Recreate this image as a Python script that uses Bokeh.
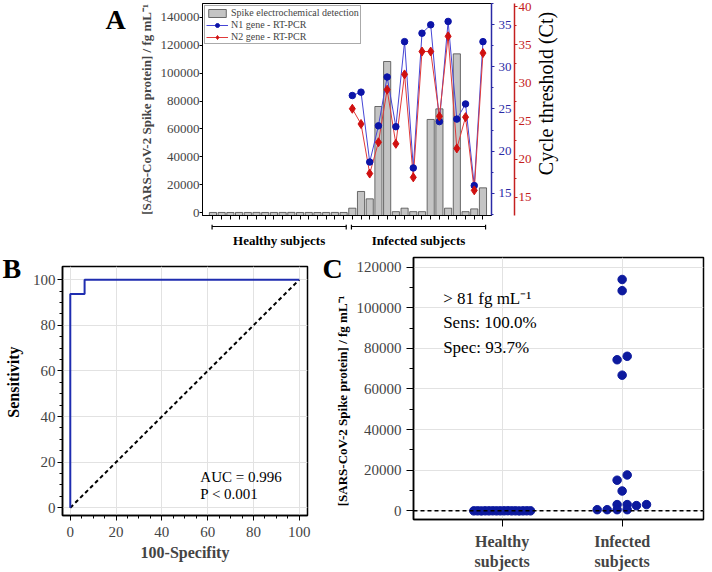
import math
from bokeh.plotting import figure
from bokeh.models import (Range1d, LinearAxis, FixedTicker, Span,
                          BasicTickFormatter)
from bokeh.layouts import column, row
from bokeh.embed import file_html
from bokeh.resources import INLINE
from bokeh.core.properties import value

SERIF = "Liberation Serif"

# ---------------- data ----------------
healthy_spike = [22, 35, 12, 48, 27, 60, 18, 31, 52, 96, 20, 41, 14, 29, 57, 33]
infected_spike = [3100, 15100, 9800, 76100, 108400, 600, 3100, 600, 600,
                  66800, 74400, 3100, 113900, 600, 2600, 17700]
n1_ct = [26.6, 27.0, 18.7, 23.0, 28.8, 22.9, 33.0, 18.0, 34.0, 35.0,
         23.5, 35.4, 23.8, 25.6, 15.9, 33.0]
n2_ct = [26.6, 24.6, 18.1, 22.2, 29.1, 22.0, 31.1, 17.6, 34.1, 34.1,
         25.6, 36.1, 21.4, 25.5, 15.9, 33.9]
group_labels = ["Healthy subjects", "Infected subjects"]
group_ticks = ["Healthy\nsubjects", "Infected\nsubjects"]
roc_fpr = [0, 0, 6.25, 6.25, 100]
roc_tpr = [0, 93.75, 93.75, 100, 100]
chance = [0, 100]
auc_text = "AUC = 0.996"
p_text = "P < 0.001"
cutoff = 81
sens_text = "Sens: 100.0%"
spec_text = "Spec: 93.7%"
cut_text = "> 81 fg mL\u207b\u00b9"
spike_label = "[SARS-CoV-2 Spike protein] / fg mL\u207b\u00b9"
ct_label = "Cycle threshold (Ct)"
sens_label = "Sensitivity"
spec_label = "100-Specifity"
legend_labels = ["Spike electrochemical detection", "N1 gene - RT-PCR", "N2 gene - RT-PCR"]
panel_letters = ["A", "B", "C"]
left_ticks = [0, 20000, 40000, 60000, 80000, 100000, 120000, 140000]
n1_ticks = [15, 20, 25, 30, 35]
n2_ticks = [15, 20, 25, 30, 35, 40]
c_ticks = [0, 20000, 40000, 60000, 80000, 100000, 120000]
b_ticks = [0, 20, 40, 60, 80, 100]

# layout only: swarm offsets of infected points in panel C
infected_swarm = [-0.042, -0.042, 0, 0.042, 0, -0.208, 0.042, -0.125, -0.042,
                  0, -0.042, 0.203, 0, 0.042, 0.119, 0.042]

BLUE_AX = "#2a2aa6"
RED_AX = "#c42020"

n_h = len(healthy_spike)
n_i = len(infected_spike)
spike_all = healthy_spike + infected_spike
idx = list(range(1, n_h + n_i + 1))
inf_idx = idx[n_h:]


def blank_fig(width, height, top, bottom):
    """A figure without axes whose frame is used as a pixel canvas."""
    f = figure(width=width, height=height, x_range=Range1d(0, width),
               y_range=Range1d(0, height - top - bottom), output_backend="svg",
               toolbar_location=None, x_axis_location=None, y_axis_location=None,
               min_border_left=0, min_border_right=0, min_border_top=top,
               min_border_bottom=bottom)
    f.xgrid.visible = False
    f.ygrid.visible = False
    f.outline_line_color = None
    return f


def letter(f, x, y, txt):
    f.text(x=[x], y=[y], text=[txt], text_font=value(SERIF), text_font_style="bold",
           text_font_size="28px", text_align="left", text_baseline="middle")


# ---------------- panel A ----------------
A_YMIN = -2150
A_TOP, A_BOT = 3, 9
pA = figure(width=406, height=224, x_range=Range1d(-0.2, 32.98),
            y_range=Range1d(A_YMIN, 150050), output_backend="svg",
            toolbar_location=None,
            min_border_left=72, min_border_right=45, min_border_top=A_TOP,
            min_border_bottom=A_BOT)
pA.xgrid.visible = False
pA.ygrid.visible = False
pA.outline_line_color = "black"
pA.outline_line_width = 1
pA.extra_y_ranges = {"n1": Range1d(12.35, 37.53), "n2": Range1d(12.6, 40.4)}

pA.vbar(x=idx, top=spike_all, bottom=A_YMIN, width=0.82, fill_color="#c4c4c4",
        line_color="#4a4a4a", line_width=0.8, legend_label=legend_labels[0])
pA.line(inf_idx, n1_ct, y_range_name="n1", line_color="#4646d6", line_width=1,
        legend_label=legend_labels[1])
pA.line(inf_idx, n2_ct, y_range_name="n2", line_color="#e03a3a", line_width=1,
        legend_label=legend_labels[2])
pA.scatter(inf_idx, n1_ct, y_range_name="n1", marker="circle", size=6.5,
           fill_color="#0c14a8", line_color="#0c14a8", legend_label=legend_labels[1])
pA.scatter(inf_idx, n2_ct, y_range_name="n2", marker="diamond", size=9,
           fill_color="#d01010", line_color="#d01010", legend_label=legend_labels[2])

xa = pA.xaxis[0]
xa.ticker = FixedTicker(ticks=idx)
xa.major_label_overrides = {i: "" for i in idx}
xa.major_label_text_font_size = "0px"
xa.major_label_standoff = 0
xa.major_tick_out = 4
xa.major_tick_in = 0
xa.minor_tick_line_color = None
xa.axis_line_color = "black"

ya = pA.yaxis[0]
ya.ticker = FixedTicker(ticks=left_ticks)
ya.formatter = BasicTickFormatter(use_scientific=False)
ya.axis_label = spike_label
ya.axis_label_text_font = SERIF
ya.axis_label_text_font_style = "bold"
ya.axis_label_text_font_size = "13px"
ya.axis_label_standoff = 4
ya.major_label_text_font = SERIF
ya.major_label_text_font_size = "13px"
ya.major_label_standoff = 0
ya.major_tick_out = 3
ya.major_tick_in = 0
ya.minor_tick_line_color = None
ya.axis_line_color = "black"


def colored_axis(rng, ticks, color, standoff):
    minor = [t + 2.5 for t in ticks[:-1]] + [ticks[0] - 2.5, ticks[-1] + 2.5]
    ax = LinearAxis(y_range_name=rng, ticker=FixedTicker(ticks=ticks, minor_ticks=minor))
    ax.axis_line_color = color
    ax.axis_line_width = 1.5
    ax.major_tick_line_color = color
    ax.minor_tick_line_color = color
    ax.major_label_text_color = color
    ax.major_label_text_font = SERIF
    ax.major_label_text_font_size = "13px"
    ax.major_tick_out = 3
    ax.major_tick_in = 0
    ax.minor_tick_out = 2
    ax.minor_tick_in = 0
    ax.major_label_standoff = standoff
    return ax


pA.add_layout(colored_axis("n1", n1_ticks, BLUE_AX, 4), "right")
pA.add_layout(colored_axis("n2", n2_ticks, RED_AX, 1), "right")

lg = pA.legend[0]
lg.location = "top_left"
lg.margin = 2
lg.padding = 1
lg.spacing = 1
lg.label_height = 10
lg.glyph_height = 10
lg.glyph_width = 22
lg.label_standoff = 3
lg.label_text_font = SERIF
lg.label_text_font_size = "10px"
lg.border_line_color = "#555555"
lg.border_line_width = 1
lg.background_fill_alpha = 1

# letter A (left of panel A) and right-hand Ct title; y measured up from frame bottom (page y 215)
pAL = blank_fig(130, 224, A_TOP, A_BOT)
letter(pAL, 105, 196, panel_letters[0])
pAR = blank_fig(176, 224, A_TOP, A_BOT)
pAR.text(x=[9], y=[122], text=[ct_label], angle=math.pi / 2, text_font=value(SERIF),
         text_font_size="20px", text_align="center", text_baseline="middle",
         text_color="black")

# ---------------- bracket strip under A ----------------
pX = figure(width=712, height=26, x_range=pA.x_range, y_range=Range1d(26, 0),
            output_backend="svg", toolbar_location=None,
            x_axis_location=None, y_axis_location=None,
            min_border_left=202, min_border_right=221, min_border_top=0,
            min_border_bottom=0)
pX.xgrid.visible = False
pX.ygrid.visible = False
pX.outline_line_color = None
groups = [(1, n_h), (n_h + 1, n_h + n_i)]
bx0 = [g[0] - 0.1 for g in groups]
bx1 = [g[1] + 0.3 for g in groups]
pX.segment(x0=bx0, y0=[2, 2], x1=bx1, y1=[2, 2], line_color="black", line_width=1.2)
pX.segment(x0=bx0 + bx1, y0=[0] * 4, x1=bx0 + bx1, y1=[5] * 4, line_color="black", line_width=1.2)
pX.text(x=[(a + b) / 2 for a, b in zip(bx0, bx1)], y=[16, 16], text=group_labels,
        text_font=value(SERIF), text_font_style="bold", text_font_size="13px",
        text_align="center", text_baseline="middle")

# ---------------- panel B ----------------
pB = figure(width=294, height=322, x_range=Range1d(-3.4, 103.6),
            y_range=Range1d(-3.4, 105.8), output_backend="svg",
            toolbar_location=None, min_border_left=36, min_border_right=13,
            min_border_top=16, min_border_bottom=57)
pB.outline_line_color = "black"
pB.outline_line_width = 1.5
minor5 = [t for t in range(0, 101, 5)]
for ax in (pB.xaxis[0], pB.yaxis[0]):
    ax.ticker = FixedTicker(ticks=b_ticks, minor_ticks=minor5)
    ax.major_label_text_font = SERIF
    ax.major_label_text_font_size = "15px"
    ax.axis_label_text_font = SERIF
    ax.axis_label_text_font_style = "bold"
    ax.axis_label_text_font_size = "16px"
    ax.major_tick_out = 5
    ax.major_tick_in = 0
    ax.minor_tick_out = 3
    ax.minor_tick_in = 0
    ax.axis_line_width = 1.5
pB.xaxis[0].axis_label = spec_label
pB.xaxis[0].major_label_standoff = 6
pB.xaxis[0].axis_label_standoff = 4
pB.yaxis[0].major_label_standoff = 2
pB.xgrid.ticker = FixedTicker(ticks=b_ticks)
pB.ygrid.ticker = FixedTicker(ticks=b_ticks)
pB.xgrid.grid_line_color = "#e2e2e2"
pB.ygrid.grid_line_color = "#e2e2e2"
pB.line(chance, chance, line_color="black", line_width=2, line_dash="4 3")
pB.line(roc_fpr, roc_tpr, line_color="#1f2db0", line_width=2)
pB.text(x=[56.8, 56.8], y=[13.7, 6.1], text=[auc_text, p_text], text_align="left",
        text_baseline="middle", text_font=value(SERIF), text_font_size="15px")

# letter B and y title; y measured up from page y 522
pBL = blank_fig(26, 322, 7, 50)
letter(pBL, 2, 254, panel_letters[1])
pBL.text(x=[13], y=[139], text=[sens_label], angle=math.pi / 2, text_font=value(SERIF),
         text_font_style="bold", text_font_size="16px", text_align="center",
         text_baseline="middle")

# ---------------- panel C ----------------
pC = figure(width=361, height=322, x_range=Range1d(0.261, 2.678),
            y_range=Range1d(-4230, 124720), output_backend="svg",
            toolbar_location=None, min_border_left=62, min_border_right=9,
            min_border_top=7, min_border_bottom=50)
pC.outline_line_color = "black"
pC.outline_line_width = 1.5
cx = pC.xaxis[0]
cy = pC.yaxis[0]
cx.ticker = FixedTicker(ticks=[1, 2])
cx.major_label_overrides = {1: group_ticks[0], 2: group_ticks[1]}
cx.major_label_text_font_style = "bold"
cx.major_label_text_font_size = "16px"
cx.minor_tick_line_color = None
cy.ticker = FixedTicker(ticks=c_ticks, minor_ticks=[t + 10000 for t in c_ticks])
cy.formatter = BasicTickFormatter(use_scientific=False)
cy.major_label_text_font_size = "15px"
for ax in (cx, cy):
    ax.major_label_text_font = SERIF
    ax.major_tick_out = 7
    ax.major_tick_in = 0
    ax.minor_tick_out = 4
    ax.minor_tick_in = 0
    ax.axis_line_width = 1.5
cy.major_label_standoff = 5
cx.major_label_standoff = 6
pC.xgrid.ticker = FixedTicker(ticks=[1, 2])
pC.ygrid.ticker = FixedTicker(ticks=c_ticks)
pC.xgrid.grid_line_color = "#e2e2e2"
pC.ygrid.grid_line_color = "#e2e2e2"
pC.add_layout(Span(location=cutoff, dimension="width", line_color="black",
                   line_width=1.5, line_dash="4 3"))
h_x = [1 + (i - (n_h - 1) / 2) * 0.0315 for i in range(n_h)]
i_x = [2 + o for o in infected_swarm]
pC.scatter(h_x, healthy_spike, marker="circle", size=8.5, fill_color="#0d1a9e",
           line_color="#0d1a9e")
pC.scatter(i_x, infected_spike, marker="circle", size=8.5, fill_color="#0d1a9e",
           line_color="#0d1a9e")
pC.text(x=[0.508] * 3, y=[104770, 92600, 80440], text=[cut_text, sens_text, spec_text],
        text_align="left", text_baseline="middle", text_font=value(SERIF),
        text_font_size="17px")

# letter C and y title; y measured up from page y 522
pCL = blank_fig(31, 322, 7, 50)
letter(pCL, 2, 254, panel_letters[2])
pCL.text(x=[21.5], y=[120], text=[spike_label], angle=math.pi / 2, text_font=value(SERIF),
         text_font_style="bold", text_font_size="13px", text_align="center",
         text_baseline="middle")

root = column(row(pAL, pA, pAR), pX, row(pBL, column(pB), pCL, pC))
open("out.html", "w").write(file_html(root, INLINE))
